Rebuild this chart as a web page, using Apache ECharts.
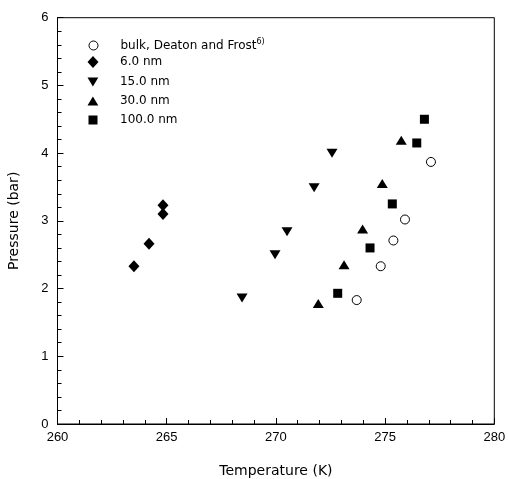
<!DOCTYPE html>
<html>
<head>
<meta charset="utf-8">
<script src="https://cdn.jsdelivr.net/npm/echarts@6/dist/echarts.min.js"></script>
<style>html,body{margin:0;padding:0;background:#fff}#c{width:508px;height:479px}</style>
</head>
<body>
<div id="c"></div>
<script>
const seriesNames = ['bulk, Deaton and Frost', '6.0 nm', '15.0 nm', '30.0 nm', '100.0 nm'];
const bulkT = [273.70, 274.80, 275.38, 275.91, 277.10];
const bulkP = [1.83, 2.33, 2.71, 3.02, 3.87];
const nm6T = [263.50, 264.19, 264.83, 264.83];
const nm6P = [2.33, 2.66, 3.10, 3.23];
const nm15T = [268.45, 269.96, 270.51, 271.75, 272.57];
const nm15P = [1.86, 2.50, 2.84, 3.49, 4.00];
const nm30T = [271.94, 273.12, 273.97, 274.87, 275.74];
const nm30P = [1.78, 2.35, 2.88, 3.55, 4.19];
const nm100T = [272.83, 274.31, 275.33, 276.45, 276.80];
const nm100P = [1.93, 2.60, 3.25, 4.15, 4.50];
const xTicks = [260, 265, 270, 275, 280];
const yTicks = [0, 1, 2, 3, 4, 5, 6];

const pair = (t, p) => t.map((v, i) => [v, p[i]]);
const downTri = 'path://M0,0 L12,0 L6,10 Z';
const upTri = 'path://M6,0 L12,10 L0,10 Z';
const styles = [
  {symbol: 'circle', size: 9, lw: 9, lh: 9, item: {color: '#fff', borderColor: '#000', borderWidth: 1, opacity: 1}},
  {symbol: 'diamond', size: [11, 12], lw: 11, lh: 12, item: {color: '#000', opacity: 1}},
  {symbol: downTri, size: [11, 9], lw: 11, lh: 9, item: {color: '#000', opacity: 1}},
  {symbol: upTri, size: [11, 9], lw: 11, lh: 9, item: {color: '#000', opacity: 1}},
  {symbol: 'rect', size: 9, lw: 9, lh: 9, item: {color: '#000', opacity: 1}}
];
const datas = [pair(bulkT, bulkP), pair(nm6T, nm6P), pair(nm15T, nm15P), pair(nm30T, nm30P), pair(nm100T, nm100P)];

const chart = echarts.init(document.getElementById('c'), null, {renderer: 'canvas'});
const legendTops = [38, 57, 76, 95, 114];
const legends = seriesNames.map((n, i) => {
  const s = styles[i];
  const left = 93 - s.lw / 2;
  return {
    data: [{name: n, icon: s.symbol}],
    left: left, top: legendTops[i] - (s.lh > 10 ? 1 : 0),
    itemWidth: s.lw, itemHeight: s.lh,
    itemGap: 0, padding: 0, selectedMode: false,
    itemStyle: s.item,
    textStyle: {fontFamily: 'DejaVu Sans', fontSize: 12, color: '#000', padding: [0, 0, 0, 120 - (left + s.lw) - 5],
      rich: {sup: {fontFamily: 'DejaVu Sans', fontSize: 8, verticalAlign: 'top', padding: [0, 0, 7, 0], color: '#000'}}},
    formatter: nm => i === 0 ? nm + '{sup|6)}' : nm
  };
});

chart.setOption({
  animation: false,
  backgroundColor: '#fff',
  legend: legends,
  grid: {left: 57.5, right: 13.7, top: 17.7, bottom: 55, outerBoundsMode: 'none', containLabel: false,
    show: true, borderColor: '#000', borderWidth: 1, backgroundColor: 'transparent'},
  xAxis: {
    type: 'value', min: xTicks[0], max: xTicks[xTicks.length - 1], interval: 5,
    name: 'Temperature (K)', nameLocation: 'middle', nameGap: 40,
    nameTextStyle: {fontFamily: 'DejaVu Sans', fontSize: 14, color: '#000'},
    axisLine: {lineStyle: {color: '#000', width: 1}},
    axisTick: {inside: true, length: 6, lineStyle: {color: '#000'}},
    minorTick: {show: true, splitNumber: 5, length: 4, lineStyle: {color: '#000'}},
    splitLine: {show: false},
    axisLabel: {fontFamily: 'Liberation Sans', fontSize: 13, color: '#000', margin: 7}
  },
  yAxis: {
    type: 'value', min: yTicks[0], max: yTicks[yTicks.length - 1], interval: 1,
    name: 'Pressure (bar)', nameLocation: 'middle', nameGap: 36,
    nameTextStyle: {fontFamily: 'DejaVu Sans', fontSize: 14, color: '#000'},
    axisLine: {lineStyle: {color: '#000', width: 1}},
    axisTick: {inside: true, length: 6, lineStyle: {color: '#000'}},
    minorTick: {show: true, splitNumber: 5, length: 4, lineStyle: {color: '#000'}},
    splitLine: {show: false},
    axisLabel: {fontFamily: 'Liberation Sans', fontSize: 13, color: '#000', margin: 9}
  },
  series: seriesNames.map((n, i) => ({
    name: n, type: 'scatter', data: datas[i],
    symbol: styles[i].symbol, symbolSize: styles[i].size,
    itemStyle: styles[i].item, z: 3
  }))
});
</script>
</body>
</html>
